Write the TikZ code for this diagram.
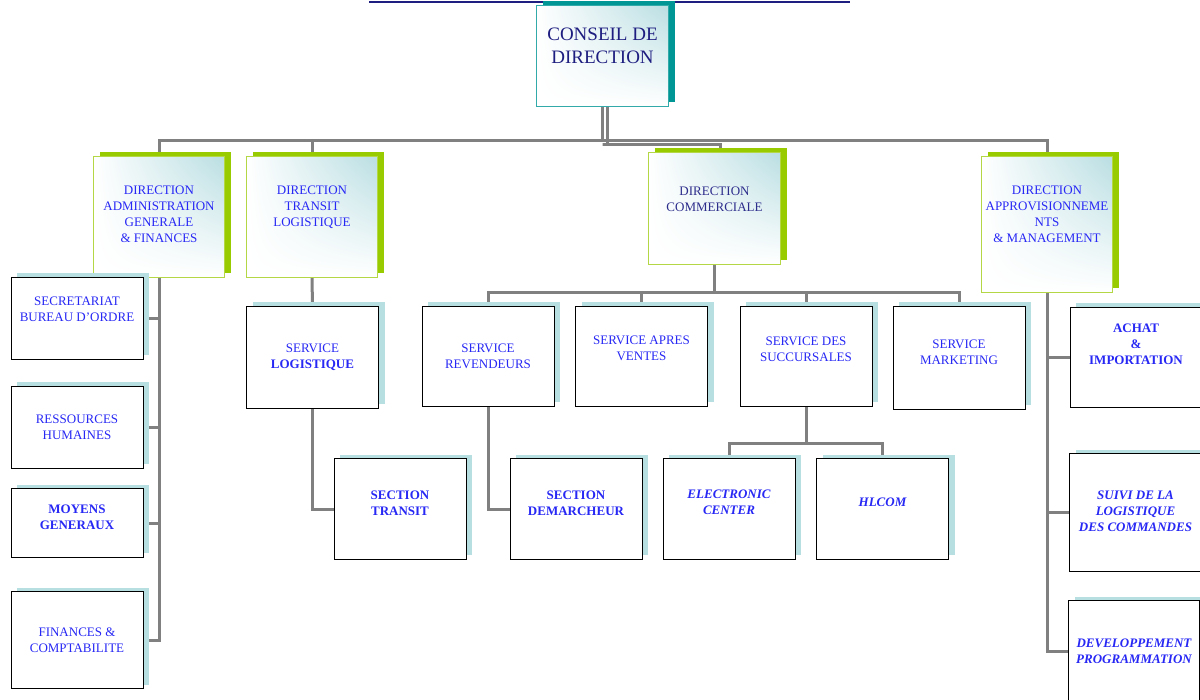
\documentclass[tikz,border=0pt]{standalone}
\usepackage{fontspec}
\setmainfont{Liberation Serif}
\usetikzlibrary{shadows,shadings,backgrounds}
\definecolor{linkgray}{RGB}{128,128,128}
\definecolor{navy}{RGB}{30,30,128}
\definecolor{commnavy}{RGB}{45,45,140}
\definecolor{txtblue}{RGB}{40,40,245}
\definecolor{tealdark}{RGB}{0,150,150}
\definecolor{tealline}{RGB}{50,170,170}
\definecolor{tealpale}{RGB}{185,222,226}
\definecolor{limegreen}{RGB}{153,204,0}
\definecolor{limeline}{RGB}{180,215,70}
\definecolor{shadowblue}{RGB}{183,222,225}
\begin{document}
\begin{tikzpicture}[x=1pt,y=-1pt,
  link/.style={draw=linkgray, line width=3pt},
  boss/.style={upper left=white, upper right=tealpale, lower left=white, lower right=white,
    draw=tealline, line width=1pt, anchor=north west, inner sep=0pt,
    drop shadow={shadow xshift=6pt, shadow yshift=4pt, fill=tealdark, opacity=1}},
  dirbox/.style={upper left=white, upper right=tealpale, lower left=white, lower right=white,
    draw=limeline, line width=1pt, anchor=north west, inner sep=0pt, minimum width=131pt,
    drop shadow={shadow xshift=6pt, shadow yshift=4pt, fill=limegreen, opacity=1}},
  svcbox/.style={fill=white, draw=black, line width=1pt, anchor=north west, inner sep=0pt, minimum width=132pt,
    drop shadow={shadow xshift=6pt, shadow yshift=4pt, fill=shadowblue, opacity=1}},
  txt/.style={align=center, text=txtblue, font=\fontsize{13}{16}\selectfont, inner sep=0pt}]
\useasboundingbox (0,0) rectangle (1200,700);
\draw[navy, line width=2pt] (369,2) -- (850,2);

% top
\node[boss, minimum width=132pt, minimum height=101pt] (conseil) at (536,5) {};
\node[txt, text=navy, font=\fontsize{19}{23}\selectfont, yshift=10pt] (conseil-t) at (conseil) {CONSEIL DE\\DIRECTION};

% directions
\node[dirbox, minimum height=121pt] (admin) at (93,156) {};
\node[txt, yshift=3pt] (admin-t) at (admin) {DIRECTION\\ADMINISTRATION\\GENERALE\\\& FINANCES};
\node[dirbox, minimum height=121pt] (transit) at (246,156) {};
\node[txt, yshift=10pt] (transit-t) at (transit) {DIRECTION\\TRANSIT\\LOGISTIQUE};
\node[dirbox, minimum width=132pt, minimum height=112pt] (commerciale) at (648,152) {};
\node[txt, text=commnavy, yshift=9pt] (commerciale-t) at (commerciale) {DIRECTION\\COMMERCIALE};
\node[dirbox, minimum height=136pt] (appro) at (981,156) {};
\node[txt, yshift=10pt] (appro-t) at (appro) {DIRECTION\\APPROVISIONNEME\\NTS\\\& MANAGEMENT};

% administration
\node[svcbox, minimum height=82pt] (secr) at (10.5,277) {};
\node[txt, yshift=9pt] (secr-t) at (secr) {SECRETARIAT\\BUREAU D{\char"0027}ORDRE};
\node[svcbox, minimum height=82pt] (rh) at (10.5,386) {};
\node[txt] (rh-t) at (rh) {RESSOURCES\\HUMAINES};
\node[svcbox, minimum height=68pt] (moyens) at (10.5,488.5) {};
\node[txt, yshift=6pt, font=\fontsize{13}{16}\selectfont\bfseries] (moyens-t) at (moyens) {MOYENS\\GENERAUX};
\node[svcbox, minimum height=97pt] (finances) at (10.5,591) {};
\node[txt] (finances-t) at (finances) {FINANCES \&\\COMPTABILITE};

% transit
\node[svcbox, minimum height=102pt] (svclog) at (246,306) {};
\node[txt] (svclog-t) at (svclog) {SERVICE\\\textbf{LOGISTIQUE}};
\node[svcbox, minimum height=100pt] (sectransit) at (333.5,458.5) {};
\node[txt, yshift=6pt, font=\fontsize{13}{16}\selectfont\bfseries] (sectransit-t) at (sectransit) {SECTION\\TRANSIT};

% commercial
\node[svcbox, minimum height=100pt] (revend) at (421.5,306) {};
\node[txt] (revend-t) at (revend) {SERVICE\\REVENDEURS};
\node[svcbox, minimum height=100pt] (apres) at (575,306) {};
\node[txt, yshift=8pt] (apres-t) at (apres) {SERVICE APRES\\VENTES};
\node[svcbox, minimum height=100pt] (succ) at (739.5,306) {};
\node[txt, yshift=7pt] (succ-t) at (succ) {SERVICE DES\\SUCCURSALES};
\node[svcbox, minimum height=103pt] (marketing) at (892.5,306) {};
\node[txt, yshift=6pt] (marketing-t) at (marketing) {SERVICE\\MARKETING};
\node[svcbox, minimum height=100pt] (demarch) at (509.5,458.5) {};
\node[txt, yshift=6pt, font=\fontsize{13}{16}\selectfont\bfseries] (demarch-t) at (demarch) {SECTION\\DEMARCHEUR};
\node[svcbox, minimum height=100pt] (electro) at (662.5,458.5) {};
\node[txt, yshift=7pt, font=\fontsize{13}{16}\selectfont\bfseries\itshape] (electro-t) at (electro) {ELECTRONIC\\CENTER};
\node[svcbox, minimum height=100pt] (hlcom) at (816,458.5) {};
\node[txt, yshift=7pt, font=\fontsize{13}{16}\selectfont\bfseries\itshape] (hlcom-t) at (hlcom) {HLCOM};

% approvisionnements
\node[svcbox, minimum height=100pt] (achat) at (1069.5,307) {};
\node[txt, yshift=13pt, font=\fontsize{13}{16}\selectfont\bfseries] (achat-t) at (achat) {ACHAT\\\&\\IMPORTATION};
\node[svcbox, minimum height=117pt] (suivi) at (1069,453.5) {};
\node[txt, yshift=1.5pt, font=\fontsize{13}{16}\selectfont\bfseries\itshape] (suivi-t) at (suivi) {SUIVI DE LA\\LOGISTIQUE\\DES COMMANDES};
\node[svcbox, minimum width=131pt, minimum height=102pt] (devel) at (1068,600) {};
\node[txt, font=\fontsize{13}{16}\selectfont\bfseries\itshape] (devel-t) at (devel) {DEVELOPPEMENT\\PROGRAMMATION};

\begin{scope}[on background layer]
\draw[link] (conseil.south) -- ++(0,34) coordinate (bus);
\draw[link] (admin.north) |- (bus) -| (appro.north);
\draw[link] (transit.north) -- (transit.north |- bus);
\draw[link] ([xshift=5pt]conseil.south) |- ([yshift=-4pt]bus) -| ([xshift=6pt]commerciale.north);
% admin
\draw[link] (admin.south) |- (finances.east);
\foreach \b in {secr, rh, moyens} \draw[link] (\b.east) -- (\b.east -| admin.south);
% transit
\draw[link] (transit.south) -- (svclog.north);
\draw[link] (svclog.south) |- (sectransit.west);
% commercial
\draw[link] (commerciale.south) -- ++(0,28) coordinate (cbus);
\draw[link] (revend.north) |- (cbus) -| (marketing.north);
\foreach \b in {apres, succ} \draw[link] (\b.north) -- (\b.north |- cbus);
\draw[link] (revend.south) |- (demarch.west);
\draw[link] (succ.south) -- ++(0,37) coordinate (sbus);
\draw[link] (electro.north) |- (sbus) -| (hlcom.north);
% appro
\draw[link] (appro.south) |- (devel.west);
\foreach \b in {achat, suivi} \draw[link] (\b.west) -- (\b.west -| appro.south);
\end{scope}
\end{tikzpicture}
\end{document}
